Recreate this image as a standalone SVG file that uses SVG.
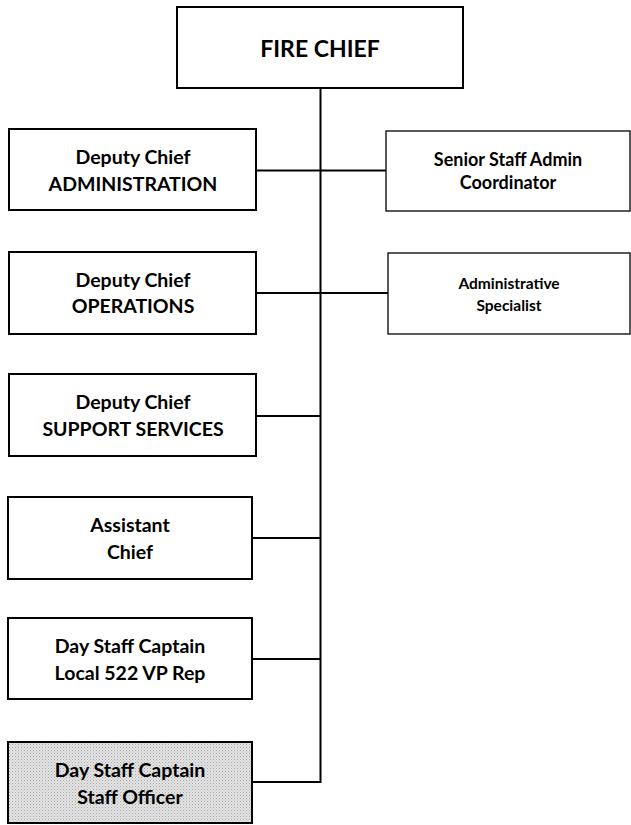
<svg xmlns="http://www.w3.org/2000/svg" width="631" height="825" viewBox="0 0 631 825">
<defs>
<pattern id="dots" width="3" height="3" patternUnits="userSpaceOnUse">
<rect width="3" height="3" fill="#e4e4e4"/>
<rect x="0" y="0" width="1" height="1" fill="#a8a8a8"/>
<rect x="1.5" y="1.5" width="1" height="1" fill="#b8b8b8"/>
</pattern>
</defs>
<style>
.box{fill:#fff;stroke:#000;stroke-width:2}
.thin{fill:#fff;stroke:#000;stroke-width:1.3}
.shaded{fill:url(#dots);stroke:#000;stroke-width:2}
.t{font-family:Lato,"Open Sans","Liberation Sans",sans-serif;font-weight:bold;fill:#000;text-anchor:middle}
.m{font-size:19.5px}
.s{font-size:18px}
.xs{font-size:15.5px}
.big{font-size:23px}
.c{stroke:#000;stroke-width:2;fill:none}
</style>
<g id="connectors">
<path class="c" d="M320.5 88 V782 H252"/>
<path class="c" d="M256 170.5 H386"/>
<path class="c" d="M256 293 H388"/>
<path class="c" d="M256 416 H320.5"/>
<path class="c" d="M252 538 H320.5"/>
<path class="c" d="M252 659 H320.5"/>
</g>
<g id="fire-chief">
<rect class="box" x="177" y="7" width="286" height="81"/>
<text class="t big" x="320" y="57">FIRE CHIEF</text>
</g>
<g id="deputy-admin">
<rect class="box" x="9" y="129" width="247" height="81"/>
<text class="t m" x="133" y="164">Deputy Chief</text>
<text class="t m" x="133" y="191">ADMINISTRATION</text>
</g>
<g id="senior-staff">
<rect class="thin" x="386" y="131" width="244" height="80"/>
<text class="t s" x="508" y="166">Senior Staff Admin</text>
<text class="t s" x="508" y="189">Coordinator</text>
</g>
<g id="deputy-ops">
<rect class="box" x="9" y="252" width="247" height="82"/>
<text class="t m" x="133" y="287">Deputy Chief</text>
<text class="t m" x="133" y="313">OPERATIONS</text>
</g>
<g id="admin-specialist">
<rect class="thin" x="388" y="253" width="242" height="81"/>
<text class="t xs" x="509" y="289">Administrative</text>
<text class="t xs" x="509" y="311">Specialist</text>
</g>
<g id="deputy-support">
<rect class="box" x="9" y="374" width="247" height="82"/>
<text class="t m" x="133" y="409">Deputy Chief</text>
<text class="t m" x="133" y="436">SUPPORT SERVICES</text>
</g>
<g id="assistant-chief">
<rect class="box" x="8" y="497" width="244" height="82"/>
<text class="t m" x="130" y="532">Assistant</text>
<text class="t m" x="130" y="559">Chief</text>
</g>
<g id="captain-local">
<rect class="box" x="8" y="618" width="244" height="81"/>
<text class="t m" x="130" y="653">Day Staff Captain</text>
<text class="t m" x="130" y="680">Local 522 VP Rep</text>
</g>
<g id="captain-staff">
<rect class="shaded" x="8" y="742" width="244" height="81"/>
<text class="t m" x="130" y="777">Day Staff Captain</text>
<text class="t m" x="130" y="804">Staff Officer</text>
</g>
</svg>
